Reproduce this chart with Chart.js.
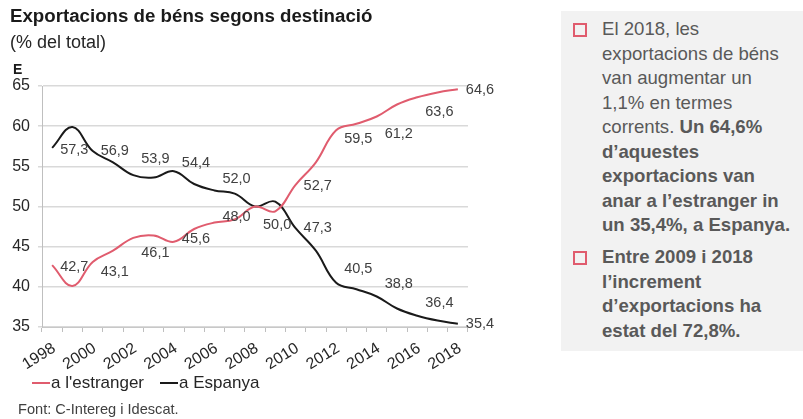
<!DOCTYPE html>
<html>
<head>
<meta charset="utf-8">
<script src="https://cdn.jsdelivr.net/npm/chart.js@4.4.1/dist/chart.umd.min.js"></script>
<style>
  body { margin: 0; background: #fff; font-family: "Liberation Sans", Arial, sans-serif; }
  #wrap { position: relative; width: 803px; height: 419px; overflow: hidden; }
  #chart { position: absolute; left: 0; top: 0; }
  .title { position: absolute; left: 10px; top: 5px; font-size: 18.7px; font-weight: bold; color: #1a1a1a; white-space: nowrap; }
  .sub { position: absolute; left: 10px; top: 32px; font-size: 18px; color: #262626; }
  .unit { position: absolute; left: 13px; top: 61px; font-size: 14px; font-weight: bold; color: #1a1a1a; }
  .leg { position: absolute; top: 373px; font-size: 17px; color: #262626; white-space: nowrap; }
  .ln { position: absolute; top: 382px; width: 18px; height: 2px; }
  .src { position: absolute; left: 18px; top: 401px; font-size: 14.6px; color: #404040; white-space: nowrap; }
  .panel { position: absolute; left: 561px; top: 11px; width: 242px; height: 340px; background: #f2f2f2; overflow: hidden; }
  .panel p { position: relative; margin: 0; padding-left: 41px; font-size: 18.6px; line-height: 24.5px; color: #595959; white-space: nowrap; }
  .panel p.first { margin-top: 6px; }
  .panel p.second { margin-top: 7.5px; }
  .panel p .box { position: absolute; left: 12px; top: 6px; width: 10px; height: 10px; border: 2px solid #e05c6e; }
</style>
</head>
<body>
<div id="wrap">
  <canvas id="chart" width="540" height="380"></canvas>
  <div class="title">Exportacions de béns segons destinació</div>
  <div class="sub">(% del total)</div>
  <div class="unit">E</div>
  <div class="ln" style="left:32px;background:#e05c6e"></div>
  <div class="leg" style="left:51px">a l'estranger</div>
  <div class="ln" style="left:160px;background:#1a1a1a"></div>
  <div class="leg" style="left:179px">a Espanya</div>
  <div class="src">Font: C-Intereg i Idescat.</div>
  <div class="panel">
    <p class="first"><span class="box"></span>El 2018, les<br>exportacions de béns<br>van augmentar un<br>1,1% en termes<br>corrents. <b>Un 64,6%</b><br><b>d’aquestes</b><br><b>exportacions van</b><br><b>anar a l’estranger in</b><br><b>un 35,4%, a Espanya.</b></p>
    <p class="second"><span class="box"></span><b>Entre 2009 i 2018</b><br><b>l’increment</b><br><b>d’exportacions ha</b><br><b>estat del 72,8%.</b></p>
  </div>
</div>
<script>
var years = ['1998','1999','2000','2001','2002','2003','2004','2005','2006','2007','2008',
             '2009','2010','2011','2012','2013','2014','2015','2016','2017','2018'];
var estranger = [42.7, 40.1, 43.1, 44.5, 46.1, 46.4, 45.6, 47.2, 48.0, 48.4, 50.0,
                 49.4, 52.7, 55.5, 59.5, 60.3, 61.2, 62.7, 63.6, 64.2, 64.6];
var espanya = [57.3, 59.9, 56.9, 55.5, 53.9, 53.6, 54.4, 52.8, 52.0, 51.6, 50.0,
               50.6, 47.3, 44.5, 40.5, 39.7, 38.8, 37.3, 36.4, 35.8, 35.4];
var yMin = 35, yMax = 65, yStep = 5;

// labels only on even years, nudged up/down like the original (null = no label)
var nudgeEstranger = [2, 10, 15, -3, -6, 18, 1, 9, 17, 15, 1];
var nudgeEspanya = [2, 0, -16, -8, -11, null, 0, -14, -12, -13, 0];

var red = '#e05c6e';
var black = '#1a1a1a';

var valueLabels = {
  id: 'valueLabels',
  afterDatasetsDraw: function(chart) {
    var ctx = chart.ctx;
    var nudges = [nudgeEstranger, nudgeEspanya];
    ctx.save();
    ctx.font = '14.5px "Liberation Sans", Arial, sans-serif';
    ctx.fillStyle = '#404040';
    ctx.textAlign = 'left';
    ctx.textBaseline = 'middle';
    chart.data.datasets.forEach(function(ds, i) {
      var meta = chart.getDatasetMeta(i);
      for (var j = 0; j < ds.data.length; j += 2) {
        var n = nudges[i][j / 2];
        if (n === null) continue;
        var pt = meta.data[j];
        ctx.fillText(ds.data[j].toFixed(1).replace('.', ','), pt.x + 8, pt.y + n);
      }
    });
    ctx.restore();
  }
};

var ctx = document.getElementById('chart').getContext('2d');
var chart = new Chart(ctx, {
  type: 'line',
  data: {
    labels: years,
    datasets: [
      { label: "a l'estranger", data: estranger, borderColor: red, backgroundColor: red,
        borderWidth: 2, pointRadius: 0, tension: 0.4, fill: false },
      { label: 'a Espanya', data: espanya, borderColor: black, backgroundColor: black,
        borderWidth: 2, pointRadius: 0, tension: 0.4, fill: false }
    ]
  },
  options: {
    responsive: false,
    animation: false,
    devicePixelRatio: 1,
    layout: { padding: { top: 86, right: 72, bottom: 0, left: 0 } },
    plugins: {
      legend: { display: false },
      title: { display: false },
      tooltip: { enabled: false }
    },
    scales: {
      x: {
        type: 'category',
        offset: true,
        grid: { offset: true, drawOnChartArea: false, drawTicks: true, tickLength: 5, color: '#bfbfbf' },
        border: { display: true, color: '#c8c8c8' },
        ticks: {
          autoSkip: false,
          minRotation: 32,
          maxRotation: 32,
          padding: 7,
          labelOffset: 2,
          color: '#262626',
          font: { size: 16, family: '"Liberation Sans", Arial, sans-serif' },
          callback: function(v, i) { return i % 2 === 0 ? years[i] : ''; }
        },
        afterFit: function(scale) { scale.height = 53; }
      },
      y: {
        min: yMin,
        max: yMax,
        grid: { color: '#d9d9d9', lineWidth: 1.5, tickLength: 4 },
        border: { display: true, color: '#bfbfbf' },
        ticks: {
          stepSize: yStep,
          padding: 8,
          color: '#262626',
          font: { size: 16, family: '"Liberation Sans", Arial, sans-serif' }
        },
        afterFit: function(scale) { scale.width = 42; }
      }
    }
  },
  plugins: [valueLabels]
});
</script>
</body>
</html>
